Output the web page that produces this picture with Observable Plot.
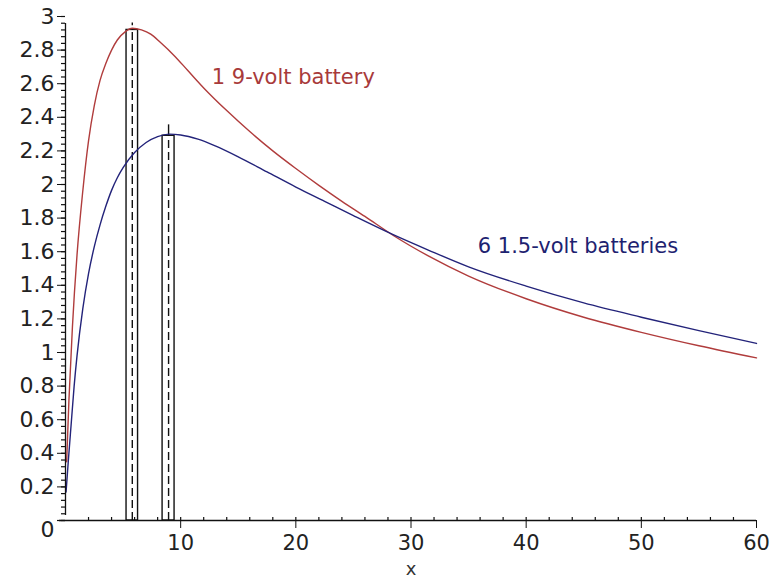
<!DOCTYPE html>
<html><head><meta charset="utf-8">
<script src="https://cdn.jsdelivr.net/npm/d3@7"></script>
<script src="https://cdn.jsdelivr.net/npm/@observablehq/plot@0.6"></script>
<style>body{margin:0;background:#fff;} svg{display:block}</style>
</head><body><div id="chart"></div>
<script>
// Series
const redX  = [0.1, 0.3, 0.6, 1.0, 1.5, 2.0, 2.5, 3.0, 3.5, 4.0, 4.5, 5.2, 5.8, 6.6, 7.4, 8.25, 9.4, 10.6, 12, 14, 16, 18, 20, 22, 24, 26, 28.5, 31.5, 35, 40, 45, 50, 55, 60];
const redY  = [0.35, 0.72, 1.15, 1.58, 1.96, 2.26, 2.47, 2.62, 2.72, 2.80, 2.86, 2.91, 2.93, 2.92, 2.895, 2.845, 2.77, 2.68, 2.575, 2.44, 2.315, 2.2, 2.095, 1.995, 1.9, 1.81, 1.695, 1.575, 1.455, 1.32, 1.21, 1.12, 1.04, 0.968];
const blueX = [0.05, 0.25, 0.5, 0.75, 1.0, 1.5, 2.0, 2.5, 3.0, 3.5, 4.0, 4.5, 5.0, 6.0, 7.0, 8.0, 9.0, 10, 11.5, 13, 15, 17.5, 20, 22.5, 25, 28.5, 31.5, 35, 40, 45, 50, 55, 60];
const blueY = [0.17, 0.36, 0.58, 0.8, 0.98, 1.26, 1.47, 1.63, 1.76, 1.87, 1.965, 2.04, 2.1, 2.19, 2.25, 2.285, 2.3, 2.295, 2.27, 2.23, 2.165, 2.075, 1.985, 1.9, 1.815, 1.70, 1.61, 1.51, 1.395, 1.295, 1.21, 1.13, 1.054];

// Peak markers (one per series)
const markerCenter = [5.8, 8.95];
const markerLo     = [5.3, 8.43];
const markerHi     = [6.3, 9.47];
const markerTop    = [2.92, 2.29];
const tipFrom      = [2.945, 2.29];
const tipTo        = [2.962, 2.355];

// Labels
const seriesNames = ["1 9-volt battery", "6 1.5-volt batteries"];
const labelX = [12.7, 35.8];
const labelY = [2.64, 1.63];
const seriesColors = ["#b03c3c", "#23237a"];
const labelColors  = ["#a83a3a", "#1e2270"];

// Ticks
const xMajorTicks = [10, 20, 30, 40, 50, 60];
const yMajorTicks = [0.2, 0.4, 0.6, 0.8, 1, 1.2, 1.4, 1.6, 1.8, 2, 2.2, 2.4, 2.6, 2.8, 3];
const yZeroTick = [0];
const xMinorTicks = d3.range(2, 60, 2);
const yMinorTicks = d3.range(0, 3.001, 0.04);

const red = redX.map((x, i) => ({x, y: redY[i]}));
const blue = blueX.map((x, i) => ({x, y: blueY[i]}));
const markers = markerCenter.map((c, i) => ({c, lo: markerLo[i], hi: markerHi[i], top: markerTop[i], t0: tipFrom[i], t1: tipTo[i]}));
const labels = seriesNames.map((t, i) => ({t, x: labelX[i], y: labelY[i], color: labelColors[i]}));

const font = "DejaVu Sans, sans-serif";
const fmt = d => String(+d.toFixed(2));

const chart = Plot.plot({
  width: 778,
  height: 580,
  marginLeft: 65,
  marginRight: 22,
  marginTop: 16,
  marginBottom: 60,
  style: {fontFamily: font, background: "#fff", color: "#222"},
  x: {domain: [0, 60]},
  y: {domain: [0, 3]},
  marks: [
    // marker rectangles
    Plot.rect(markers, {x1: "lo", x2: "hi", y1: 0, y2: "top", fill: "none", stroke: "#111", strokeWidth: 1.4}),
    Plot.ruleX(markers, {x: "c", y1: 0, y2: "top", stroke: "#111", strokeWidth: 1.4, strokeDasharray: "8,4"}),
    Plot.ruleX(markers, {x: "c", y1: "t0", y2: "t1", stroke: "#111", strokeWidth: 1.4}),
    // curves
    Plot.line(red, {x: "x", y: "y", stroke: seriesColors[0], strokeWidth: 1.4, curve: "monotone-x"}),
    Plot.line(blue, {x: "x", y: "y", stroke: seriesColors[1], strokeWidth: 1.4, curve: "monotone-x"}),
    // curve labels
    Plot.text(labels, {x: "x", y: "y", text: "t", fill: "color", textAnchor: "start", fontSize: 21, fontFamily: font}),
    // axes lines
    Plot.ruleY([0], {x1: 0, x2: 60, insetLeft: -6, stroke: "#111", strokeWidth: 1.3}),
    Plot.ruleX([0], {y1: 0, y2: 3, insetTop: -5, insetBottom: -7, stroke: "#111", strokeWidth: 1.3}),
    // minor ticks
    Plot.ruleY(yMinorTicks, {y: d => d, x1: 0, x2: 0, insetLeft: -4, stroke: "#111", strokeWidth: 1.2}),
    Plot.ruleX(xMinorTicks, {x: d => d, y1: 0, y2: 0, insetTop: -3, stroke: "#111", strokeWidth: 1.2}),
    // y axis major ticks and labels
    Plot.axisY(yMajorTicks, {anchor: "left", tickSize: 8, tickPadding: 3, tickFormat: fmt, fontSize: 22, label: null, stroke: "#111", fill: "#222"}),
    Plot.ruleY(yZeroTick, {y: d => d, x1: 0, x2: 0, insetLeft: -8, stroke: "#111", strokeWidth: 1.2}),
    Plot.text(yZeroTick, {x: 0, y: d => d, text: d => String(d), dx: -11, dy: 9, textAnchor: "end", fontSize: 22, fill: "#222", fontFamily: font}),
    // x axis major ticks and labels
    Plot.axisX(xMajorTicks, {anchor: "bottom", tickSize: 8, tickPadding: 7, tickFormat: fmt, fontSize: 21, label: null, stroke: "#111", fill: "#222"}),
    Plot.text(["x"], {frameAnchor: "bottom", dy: 54, text: d => d, fontSize: 18, fill: "#333", fontFamily: font})
  ]
});
document.getElementById("chart").appendChild(chart);
</script>
</body></html>
